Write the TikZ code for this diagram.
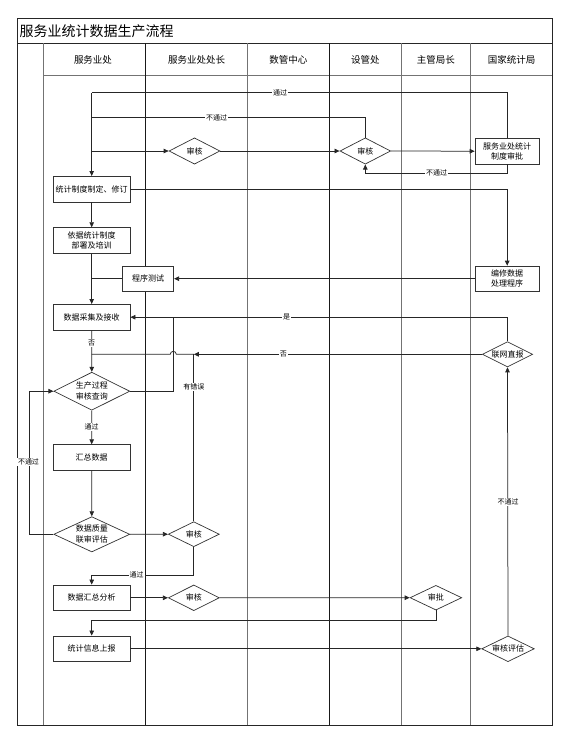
\documentclass[tikz,border=0pt]{standalone}
\usepackage{fontspec}
\setmainfont{Noto Sans CJK SC}
\usetikzlibrary{shapes.geometric,arrows.meta}
\begin{document}
\begin{tikzpicture}[x=1pt,y=-1pt,
  frame/.style={line width=0.9pt,black!85},
  lanedark/.style={line width=0.8pt,black!90},
  lanelight/.style={line width=0.8pt,black!55},
  procbox/.style={draw=black!80,line width=0.7pt,rectangle,inner sep=0pt,minimum width=76.7pt,minimum height=25.7pt,font=\fontsize{8}{10}\selectfont,align=center,fill=white},
  decide/.style={draw=black!80,line width=0.7pt,diamond,shape aspect=2,inner sep=0pt,font=\fontsize{8}{11}\selectfont,align=center,fill=white},
  conn/.style={line width=0.75pt,black!85},
  arr/.style={conn,-{Triangle[length=5pt,width=4.5pt]}},
  lbl/.style={fill=white,inner sep=0.8pt,font=\fontsize{7}{8}\selectfont},
  lanehead/.style={font=\fontsize{9.5}{11}\selectfont}
]
\useasboundingbox (0,0) rectangle (570,740);

% frame and lanes
\draw[frame] (17.3,18.3) rectangle (552.3,725);
\draw[frame] (17.3,43.3) -- (552.3,43.3);
\draw[lanelight] (43.3,75.7) -- (552.3,75.7);
\draw[lanelight] (43.3,43.3) -- (43.3,725);
\draw[lanedark] (145.7,43.3) -- (145.7,725);
\draw[lanelight] (247.3,43.3) -- (247.3,725);
\draw[lanedark] (329.3,43.3) -- (329.3,725);
\draw[lanelight] (401,43.3) -- (401,725);
\draw[lanelight] (470.7,43.3) -- (470.7,725);

\node[anchor=west,font=\fontsize{14}{16}\selectfont,inner sep=0pt] (title) at (19.5,31.5) {服务业统计数据生产流程};
\node[lanehead] (h1) at (93,60) {服务业处};
\node[lanehead] (h2) at (196.5,60) {服务业处处长};
\node[lanehead] (h3) at (288.3,60) {数管中心};
\node[lanehead] (h4) at (365.3,60) {设管处};
\node[lanehead] (h5) at (435.8,60) {主管局长};
\node[lanehead] (h6) at (511.5,60) {国家统计局};

% nodes
\node[procbox] (b1) at (91.7,189.2) {统计制度制定、修订};
\node[procbox] (b2) at (91.7,240.5) {依据统计制度\\部署及培训};
\node[procbox,minimum width=51.4pt,minimum height=25.3pt] (test) at (148,278.7) {程序测试};
\node[procbox] (b3) at (91.7,317.2) {数据采集及接收};
\node[decide,minimum width=76pt,minimum height=38pt] (d5) at (91.8,391.2) {生产过程\\审核查询};
\node[procbox] (b4) at (91.7,457.5) {汇总数据};
\node[decide,minimum width=76pt,minimum height=35.3pt] (d6) at (91.8,534.3) {数据质量\\联审评估};
\node[procbox] (b5) at (91.7,597.8) {数据汇总分析};
\node[procbox] (b6) at (91.7,648.8) {统计信息上报};

\node[decide,minimum width=51pt,minimum height=26.3pt] (d1) at (194.5,151) {审核};
\node[decide,minimum width=51pt,minimum height=25pt] (d3) at (193.8,534.2) {审核};
\node[decide,minimum width=51pt,minimum height=25.7pt] (d4) at (193.8,597.8) {审核};
\node[decide,minimum width=50.7pt,minimum height=26.3pt] (d2) at (365.3,151) {审核};
\node[decide,minimum width=51.7pt,minimum height=24.7pt] (d7) at (435.9,597.7) {审批};
\node[procbox,minimum width=64.3pt,minimum height=25.7pt] (appr) at (507.2,151.2) {服务业处统计\\制度审批};
\node[procbox,minimum width=64.3pt,minimum height=25.3pt] (prog) at (507.2,278.7) {编修数据\\处理程序};
\node[decide,minimum width=50.4pt,minimum height=25.3pt] (d8) at (507.5,354.3) {联网直报};
\node[decide,minimum width=52.6pt,minimum height=25.7pt] (d9) at (508,648.8) {审核评估};

% bend coordinates
\coordinate (t1) at (507.2,92.7);
\coordinate (t2) at (91.7,92.7);
\coordinate (u1) at (365.3,117.7);
\coordinate (u2) at (91.7,117.7);
\coordinate (s1) at (91.7,151);
\coordinate (n1) at (507.2,173.3);
\coordinate (n2) at (365.3,173.3);
\coordinate (r1) at (507.2,189.2);
\coordinate (p1) at (91.7,278.7);
\coordinate (y1) at (507.5,317.2);
\coordinate (q1) at (173.3,391.2);
\coordinate (q2) at (173.3,317.2);
\coordinate (e1) at (193.8,354.3);
\coordinate (e2) at (91.7,354.3);
\coordinate (f1) at (29,534.3);
\coordinate (f2) at (29,391.2);
\coordinate (g1) at (193.8,575);
\coordinate (g2) at (91.7,575);
\coordinate (k1) at (435.9,620.3);
\coordinate (k2) at (91.7,620.3);

% connectors
\draw[conn] (appr.north) -- (t1) -- (t2);
\draw[arr] (t2) -- (b1.north);
\draw[conn] (d2.north) -- (u1) -- (u2);
\draw[arr] (s1) -- (d1.west);
\draw[arr] (d1.east) -- (d2.west);
\draw[arr] (d2.east) -- (appr.west);
\draw[conn] (appr.south) -- (n1) -- (n2);
\draw[arr] (n2) -- (d2.south);
\draw[conn] (b1.east) -- (r1);
\draw[arr] (r1) -- (prog.north);
\draw[arr] (b1.south) -- (b2.north);
\draw[arr] (prog.west) -- (test.east);
\draw[conn] (test.west) -- (p1);
\draw[arr] (b2.south) -- (b3.north);
\draw[conn] (d8.north) -- (y1);
\draw[arr] (y1) -- (b3.east);
\draw[conn] (d5.east) -- (q1) -- (q2);
\draw[arr] (b3.south) -- (d5.north);
\draw[arr] (d8.west) -- (e1);
\draw[conn] (e1) -- (176.3,354.3) arc[start angle=0,end angle=180,radius=3pt] -- (e2);
\draw[conn] (d3.north) -- (e1);
\draw[arr] (d5.south) -- (b4.north);
\draw[arr] (b4.south) -- (d6.north);
\draw[conn] (d6.west) -- (f1) -- (f2);
\draw[arr] (f2) -- (d5.west);
\draw[arr] (d6.east) -- (d3.west);
\draw[conn] (d3.south) -- (g1) -- (g2);
\draw[arr] (g2) -- (b5.north);
\draw[arr] (b5.east) -- (d4.west);
\draw[arr] (d4.east) -- (d7.west);
\draw[conn] (d7.south) -- (k1) -- (k2);
\draw[arr] (k2) -- (b6.north);
\draw[arr] (b6.east) -- (d9.west);
\draw[arr] (d9.north) -- (d8.south);

% labels
\node[lbl] (l1) at (280,92.7) {通过};
\node[lbl] (l2) at (216.7,117.7) {不通过};
\node[lbl] (l3) at (436.7,173.3) {不通过};
\node[lbl] (l4) at (286.7,317.2) {是};
\node[lbl] (l5) at (91.7,342.7) {否};
\node[lbl] (l6) at (283.3,354.3) {否};
\node[lbl] (l7) at (193.8,386.7) {有错误};
\node[lbl] (l8) at (91.7,426.7) {通过};
\node[lbl] (l9) at (28.5,462.3) {不通过};
\node[lbl] (l10) at (136.7,575) {通过};
\node[lbl] (l11) at (508,501.7) {不通过};
\end{tikzpicture}
\end{document}
